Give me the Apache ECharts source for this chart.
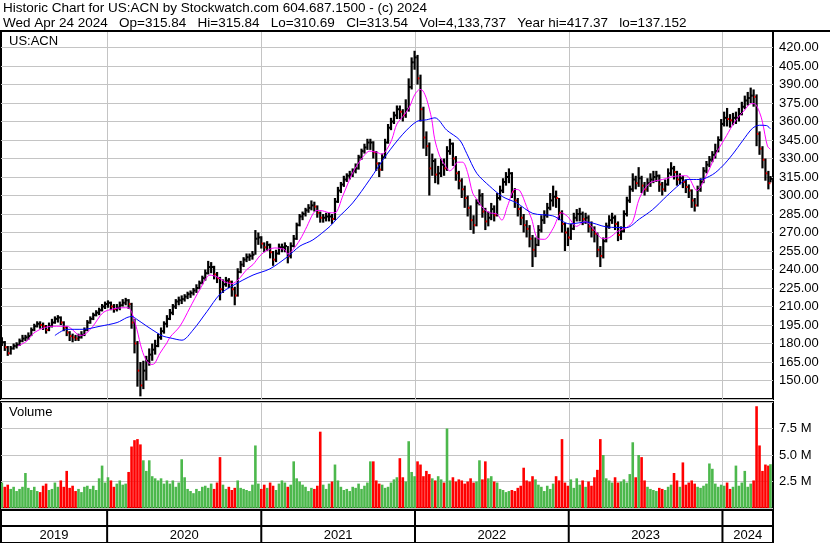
<!DOCTYPE html>
<html><head><meta charset="utf-8">
<script src="https://cdn.jsdelivr.net/npm/echarts@6/dist/echarts.min.js"></script>
<style>html,body{margin:0;padding:0;background:#fff}#c{width:830px;height:543px}</style>
</head><body><div id="c"></div>
<script>
// ---- data (weekly) ----
const closes = [181,177,172,176,178,179,182,184,185,186,
191,194,196,195,194,191,194,197,200,201,
197,193,189,186,185,184,185,187,191,197,
200,203,205,207,210,212,213,210,208,209,
211,213,215,212,197,180,158,146,158,166,
171,175,178,185,190,196,200,205,210,214,
215,216,218,220,221,223,225,229,233,237,
242,242,236,233,224,228,231,230,224,219,
238,244,248,250,251,252,265,266,261,258,
260,254,248,253,258,258,259,251,259,265,
276,283,285,288,290,292,291,286,282,282,
283,283,281,295,304,309,313,316,317,320,
322,331,336,339,343,343,335,326,321,331,
343,355,360,365,370,368,365,370,388,408,
412,395,370,347,340,322,328,317,318,325,
322,336,342,330,318,312,305,298,290,280,
276,294,300,287,279,282,289,284,298,304,
311,315,318,303,296,289,282,276,273,265,
256,260,272,280,284,290,296,299,298,286,
277,270,266,273,282,285,285,281,282,275,
272,269,256,251,263,275,280,282,277,268,
271,285,296,305,313,310,314,308,305,310,
313,315,316,309,305,309,318,322,319,313,
314,311,307,304,296,292,305,311,320,325,
329,333,336,345,358,363,362,361,363,363,
366,372,377,379,381,380,350,338,329,318,
310,313.54];
const lows = [178,174,170,171,175,176,178,181,182,183,
186,190,193,192,191,188,190,193,196,197,
195,190,186,182,181,182,182,184,186,190,
196,199,202,203,206,208,209,207,205,206,
207,210,211,208,192,172,145,137.15,143,150,
162,166,171,177,183,188,193,199,203,208,
211,212,214,216,217,219,221,224,228,231,
236,237,232,229,215,221,226,225,218,211,
218,237,242,246,247,248,252,260,257,254,
255,249,243,246,252,254,254,245,249,258,
264,275,280,283,286,288,287,282,278,278,
279,279,277,280,294,302,307,311,313,315,
318,321,329,334,337,337,330,320,315,320,
330,342,353,358,362,362,360,363,368,386,
402,390,360,338,332,300,316,310,309,315,
316,320,333,324,312,305,298,290,283,272,
269,275,292,282,272,275,280,279,283,296,
302,308,310,298,290,283,276,270,266,258,
242,250,259,270,277,282,288,291,290,280,
270,255,259,264,272,279,279,276,277,270,
266,262,250,242,249,262,273,277,272,263,
264,270,283,294,303,305,307,302,300,303,
307,310,311,303,300,303,308,316,313,308,
309,306,302,298,290,287,291,303,310,318,
323,327,330,335,344,356,356,355,357,358,
360,365,370,373,375,372,340,333,322,312,
305,310.69];
const highs = [185,182,178,178,180,181,184,187,187,189,
193,196,198,198,197,195,197,200,202,203,
202,198,194,190,188,187,188,190,193,199,
202,205,207,209,212,214,215,214,212,212,
214,216,217,216,213,200,182,165,166,170,
176,180,183,188,193,198,203,208,212,216,
218,219,220,222,223,225,228,231,235,240,
247,246,243,238,234,232,234,233,231,226,
241,247,250,253,253,255,272,270,267,262,
263,261,255,256,261,261,262,259,262,268,
278,285,287,290,293,296,295,292,287,285,
286,286,285,298,307,311,316,318,320,322,
326,333,338,342,346,346,344,336,327,334,
346,358,363,368,373,373,370,378,395,412,
417.37,414,398,372,352,343,334,330,324,330,
330,340,346,343,332,320,314,308,300,292,
284,297,305,302,290,287,294,292,302,308,
314,319,322,319,306,298,291,285,280,276,
268,266,276,284,288,294,302,308,304,298,
288,278,274,277,286,289,290,287,286,284,
279,275,270,259,266,278,284,286,284,279,
275,288,299,308,318,316,323,316,311,314,
318,320,320,317,311,313,322,327,324,320,
318,316,313,309,305,298,308,314,323,328,
332,336,342,348,362,368,371,366,367,368,
371,376,381,384,387.5,386,382,352,340,330,
320,315.84];
const volumesM = [2.4,2.0,2.2,1.8,2.0,1.6,1.8,2.0,3.3,1.9,
1.7,2.0,1.6,1.5,2.1,2.3,1.7,1.8,2.4,2.0,
2.6,2.0,3.5,1.9,2.1,1.6,1.8,1.5,2.0,2.1,
1.8,2.1,1.7,2.8,4.0,2.4,2.9,2.6,2.0,2.3,
2.6,2.2,2.3,3.4,5.8,6.4,6.5,6.0,4.5,3.5,
4.5,3.0,2.8,2.6,2.8,2.3,2.6,2.3,2.6,2.0,
2.4,4.6,2.9,1.8,1.6,1.4,1.8,1.6,2.0,2.1,
1.9,2.3,1.8,2.4,4.8,2.2,1.8,2.0,1.7,1.9,
2.6,1.9,1.8,1.7,1.6,2.2,5.9,2.3,1.8,2.2,
1.9,2.4,2.1,1.7,2.3,2.6,2.4,2.0,2.2,4.4,
2.8,2.5,2.2,2.0,1.6,1.9,1.8,2.1,7.2,2.2,
1.8,2.3,2.5,4.1,2.6,2.0,1.7,1.8,1.6,2.0,
1.9,2.3,1.8,2.1,2.4,4.4,4.4,2.6,2.3,2.2,
1.9,2.0,2.4,2.7,2.9,4.7,2.9,2.5,6.3,3.4,
3.0,4.4,4.1,3.0,3.5,3.2,2.8,2.6,3.0,2.7,
2.4,7.5,2.6,2.9,2.5,2.7,2.6,2.3,2.5,2.8,
2.4,2.5,4.5,2.7,4.4,2.8,3.0,2.5,2.4,1.8,
1.7,1.5,1.6,1.7,1.6,1.9,2.1,3.8,2.6,2.5,
3.0,2.7,2.2,2.0,1.6,2.1,1.8,2.3,3.0,2.6,
6.5,2.4,2.1,2.7,1.9,2.8,2.2,2.6,2.0,2.5,
2.1,2.9,3.6,6.5,5.0,2.8,2.6,2.4,2.9,2.4,
2.5,2.7,2.4,3.2,6.2,2.9,5.0,4.8,2.6,2.0,
1.8,1.7,1.6,1.9,1.8,1.7,2.0,2.2,3.3,2.6,
2.0,4.3,2.2,2.4,2.6,2.3,2.0,1.9,2.1,2.3,
4.2,3.7,2.3,2.0,2.2,2.1,2.4,1.8,2.0,4.0,
2.1,2.4,3.5,2.0,2.3,2.6,9.6,5.9,3.5,4.1,
4.0,4.13];
// moving averages: positions in weeks from first bar, values
const magentaWeeks = [5.5,8.5,10.6,14,17.4,22.1,23.8,26.5,28.2,30.9,34.3,37.7,41.1,42.8,44.1,45.8,47.5,49.2,50.9,51.9,53.6,56,57,60.4,63.8,67.2,70.6,73,75.7,78,80.1,83.1,85.2,87.5,89.9,92.6,96,97,98.7,101.1,103.5,105.5,106.9,108.9,111.3,113,115.7,119,122.4,124.8,127.2,128.9,130.6,132.3,134,136.7,138.4,140.1,141.8,142.8,144.1,145.8,146.8,148.5,150.2,151.9,152.9,154.6,156.3,158,159.7,161.4,163.1,165.5,167.9,169.6,171.6,174,175.7,178,179.7,181.8,184.1,186.9,189.9,191.9,195,197.7,201,203.8,206.2,208.9,211.9,214,216.3,219.7,224.1,229.9,232.3,235.7,239.4,242.5,245.8,248.5,251.3,254.3,255.3,257,258,259.7,260.7];
const magentaVals = [178,182,188,192.5,194,194,191.5,186.5,187.5,194,205,208,209,209,205,191.5,175,165.5,163,164,172,180.5,185,194,209,224,235.5,234,230,228.5,231.5,240,244,251,255.5,257.5,256,252.5,256,264,275,285,288,287.5,286,286,300,318.5,331,336,335,333.5,337.5,345.5,358,366,372.5,382,386,385,378,362,346,332,325,320,321.5,327,327,318.5,302,296,290,286,285,280,292,305,304,291,281,265,264.5,273,286,283,275,279,272,265,266,271,274,279,298,310,313,316,316,304,318.5,335,348.5,359.5,367.5,374.5,374.5,367.5,359.5,340,337.5];
const blueWeeks = [18,22.1,27.5,33.3,39.1,42.4,44.1,45.8,49.2,52.6,54.6,57,61.1,64.8,69.6,74,78.4,85.2,90.9,96.7,101.1,105.5,111.3,113.6,119,124.8,130.6,136,140.7,144.1,146.9,150.9,155.3,157.7,161.1,165.5,169.9,174.6,180.1,186.9,192.6,198.4,205.2,211.9,216.3,220.7,225.5,229.9,232.3,236.7,241.1,244.5,247.9,251.3,254.6,257,259.4,260.7];
const blueVals = [186.5,191.5,191.5,194,197,201,202,199.6,194,188.7,186,184.6,182.7,190.8,206,220,227,235.5,240.5,250,259,264,275,281,294,313,333.5,349.7,360,361.4,363,353,345,334,318,307.5,299,294,285.5,283.5,277,278.5,274.5,274,281,288.5,299.5,309,313,313,317,324,333.5,344.5,354.5,357,356.7,354];
const yearLabels = ['2019','2020','2021','2022','2023','2024'];
const headerLine1 = 'Historic Chart for US:ACN by Stockwatch.com 604.687.1500 - (c) 2024';
const headerLine2 = 'Wed Apr 24 2024   Op=315.84   Hi=315.84   Lo=310.69   Cl=313.54   Vol=4,133,737   Year hi=417.37   lo=137.152';
const symbolLabel = 'US:ACN';
const volumeLabel = 'Volume';

// ---- time frame ----
const DAY = 86400000, WEEK = 7 * DAY;
const firstWeek = Date.UTC(2019, 3, 26);
const lastDate = Date.UTC(2024, 3, 24);
const xMin = Date.UTC(2019, 3, 24), xMax = Date.UTC(2024, 3, 30);
const dateOf = i => (i >= 261 ? lastDate : firstWeek + i * WEEK);
const weekDate = w => firstWeek + w * WEEK;
const yearStarts = yearLabels.map(y => Math.max(Date.UTC(+y, 0, 1), xMin));
const yearEnds = yearLabels.map(y => Math.min(Date.UTC(+y + 1, 0, 1), xMax));

const priceData = closes.map((c, i) => [dateOf(i), lows[i], highs[i], c, i > 0 && c < closes[i - 1] ? 1 : 0]);
const volData = volumesM.map((v, i) => [dateOf(i), v, i > 0 && closes[i] < closes[i - 1] ? 1 : 0]);
const magData = magentaWeeks.map((w, k) => [weekDate(w), magentaVals[k]]);
const blueData = blueWeeks.map((w, k) => [weekDate(w), blueVals[k]]);

const FONT = '"Liberation Sans", Arial, sans-serif';
const GRID_COL = '#c4c4c4';

const chart = echarts.init(document.getElementById('c'), null, {renderer: 'canvas'});

function yearLines(params, api) {
  const cs = params.coordSys;
  const x = Math.round(api.coord([api.value(0), 0])[0]) + 0.5;
  return {type: 'line', shape: {x1: x, y1: cs.y, x2: x, y2: cs.y + cs.height},
    style: {stroke: GRID_COL, lineWidth: 1}};
}
const yearBoundaries = yearStarts.slice(1).map(t => [t]);

const option = {
  backgroundColor: '#fff',
  animation: false,
  title: [
    {text: headerLine1, left: 3, top: 1, padding: 0, textStyle: {fontFamily: FONT, fontSize: 13.5, fontWeight: 'normal', color: '#000'}},
    {text: headerLine2, left: 3, top: 16, padding: 0, textStyle: {fontFamily: FONT, fontSize: 13.5, fontWeight: 'normal', color: '#000'}},
    {text: symbolLabel, left: 9, top: 35, padding: 0, textStyle: {fontFamily: FONT, fontSize: 13, fontWeight: 'normal', color: '#000'}},
    {text: volumeLabel, left: 9, top: 406, padding: 0, textStyle: {fontFamily: FONT, fontSize: 13, fontWeight: 'normal', color: '#000'}}
  ],
  graphic: [
    {type: 'rect', left: 0, top: 30, shape: {width: 830, height: 2}, style: {fill: '#000'}, z: 100}
  ],
  grid: [
    {left: 1, top: 31, width: 772, height: 368, show: true, borderColor: '#000', borderWidth: 2, backgroundColor: 'transparent'},
    {left: 1, top: 402, width: 772, height: 106, show: true, borderColor: '#000', borderWidth: 2, backgroundColor: 'transparent'},
    {left: 1, top: 510, width: 772, height: 33, show: true, borderColor: '#000', borderWidth: 2, backgroundColor: 'transparent'}
  ],
  xAxis: [0, 1, 2].map(g => ({type: 'time', gridIndex: g, min: xMin, max: xMax, show: false})),
  yAxis: [
    {type: 'value', gridIndex: 0, position: 'right', min: 135, max: 433.4, interval: 15,
      axisLine: {show: false}, axisTick: {show: false},
      axisLabel: {margin: 6, fontFamily: FONT, fontSize: 13, color: '#000',
        formatter: v => (v >= 150 && v <= 420 ? v.toFixed(2) : '')},
      splitLine: {lineStyle: {color: GRID_COL, width: 1}}},
    {type: 'value', gridIndex: 1, position: 'right', min: 0, max: 10, interval: 2.5,
      axisLine: {show: false}, axisTick: {show: false},
      axisLabel: {margin: 6, fontFamily: FONT, fontSize: 13, color: '#000',
        formatter: v => (v > 0 && v < 10 ? v.toFixed(1) + ' M' : '')},
      splitLine: {lineStyle: {color: GRID_COL, width: 1}}},
    {type: 'value', gridIndex: 2, min: 0, max: 1, show: false}
  ],
  series: [
    {type: 'custom', xAxisIndex: 0, yAxisIndex: 0, data: yearBoundaries, renderItem: yearLines, z: 1, silent: true},
    {type: 'custom', xAxisIndex: 1, yAxisIndex: 1, data: yearBoundaries, renderItem: yearLines, z: 1, silent: true},
    {type: 'custom', xAxisIndex: 0, yAxisIndex: 0, data: priceData, z: 3, clip: true,
      renderItem: (params, api) => {
        const d = api.value(0);
        const lo = api.coord([d, api.value(1)]);
        const hi = api.coord([d, api.value(2)]);
        const cl = api.coord([d, api.value(3)]);
        const down = api.value(4);
        return {type: 'group', children: [
          {type: 'line', shape: {x1: lo[0], y1: lo[1], x2: hi[0], y2: hi[1]}, style: {stroke: '#000', lineWidth: 2.2}},
          {type: 'rect', shape: {x: cl[0] + 0.3, y: cl[1] - 1, width: 1.8, height: 2}, style: {fill: down ? '#ff0000' : '#000'}}
        ]};
      }},
    {type: 'line', xAxisIndex: 0, yAxisIndex: 0, data: magData, smooth: 0.3, showSymbol: false, z: 4,
      lineStyle: {color: '#ff00ff', width: 1}},
    {type: 'line', xAxisIndex: 0, yAxisIndex: 0, data: blueData, smooth: 0.3, showSymbol: false, z: 4,
      lineStyle: {color: '#0000ff', width: 1}},
    {type: 'custom', xAxisIndex: 1, yAxisIndex: 1, data: volData, z: 3, clip: true,
      renderItem: (params, api) => {
        const d = api.value(0);
        const b = api.coord([d, 0]);
        const t = api.coord([d, api.value(1)]);
        return {type: 'rect', shape: {x: b[0] - 1.3, y: t[1], width: 2.6, height: b[1] - t[1]},
          style: {fill: api.value(2) ? '#ff0000' : '#4cb84c'}};
      }},
    {type: 'custom', xAxisIndex: 2, yAxisIndex: 2, data: yearLabels.map((y, k) => [yearStarts[k], yearEnds[k]]), z: 5,
      renderItem: (params, api) => {
        const cs = params.coordSys;
        const x0 = api.coord([api.value(0), 0])[0];
        const x1 = api.coord([api.value(1), 0])[0];
        const mid = cs.y + 16;
        return {type: 'group', children: [
          {type: 'line', shape: {x1: x0, y1: cs.y, x2: x0, y2: cs.y + cs.height}, style: {stroke: '#000', lineWidth: 2}},
          {type: 'line', shape: {x1: x0, y1: mid, x2: x1, y2: mid}, style: {stroke: '#000', lineWidth: 2}},
          {type: 'text', style: {text: yearLabels[params.dataIndex], x: (x0 + x1) / 2, y: cs.y + 25,
            align: 'center', verticalAlign: 'middle', font: '13px ' + FONT, fill: '#000'}}
        ]};
      }}
  ]
};
chart.setOption(option);
</script></body></html>
